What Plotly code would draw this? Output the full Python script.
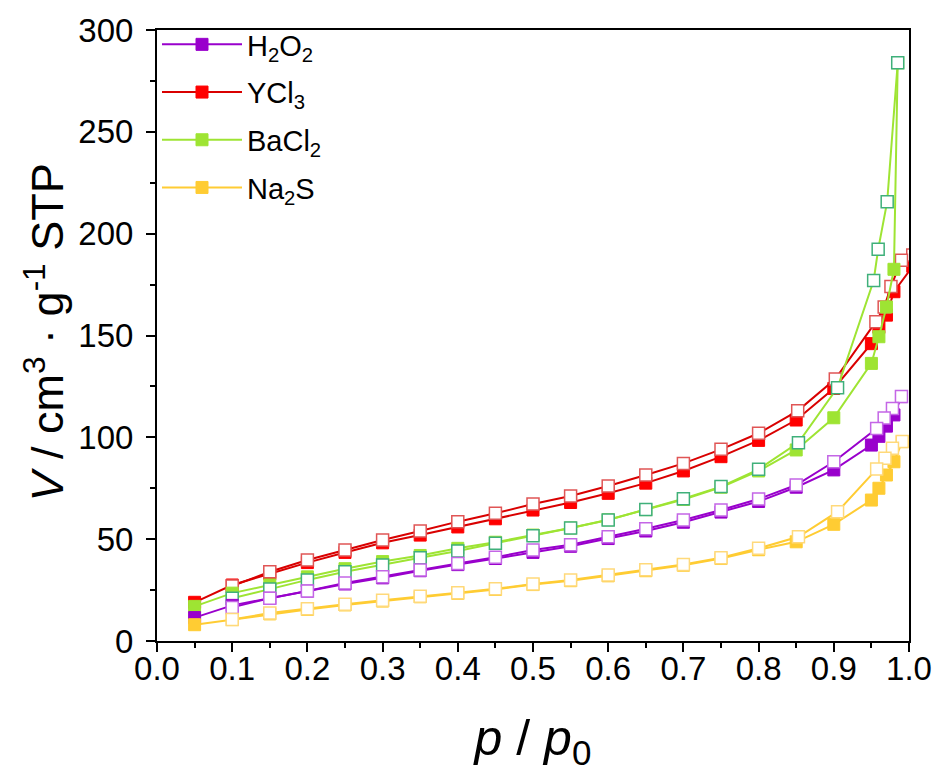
import plotly.graph_objects as go

# ---------------- data ----------------
names = ["H<sub>2</sub>O<sub>2</sub>", "YCl<sub>3</sub>", "BaCl<sub>2</sub>", "Na<sub>2</sub>S"]

p_ads = [0.05, 0.10, 0.15, 0.20, 0.25, 0.30, 0.35, 0.40, 0.45, 0.50, 0.55, 0.60,
         0.65, 0.70, 0.75, 0.80, 0.85, 0.90, 0.95, 0.96, 0.97, 0.98]
p_des_low = [0.80, 0.75, 0.70, 0.65, 0.60, 0.55, 0.50, 0.45, 0.40, 0.35, 0.30,
             0.25, 0.20, 0.15, 0.10]

# H2O2
h2o2_ads_p = p_ads + [0.99]
h2o2_ads_v = [11.5, 17.5, 21.0, 24.5, 28.0, 31.0, 34.5, 37.5, 40.5, 43.5, 46.5, 50.3,
              54.0, 58.3, 63.3, 68.5, 75.5, 84.0, 96.2, 100.5, 105.5, 111.0, 120.0]
h2o2_des_p = [0.99, 0.978, 0.967, 0.957, 0.90, 0.85] + p_des_low
h2o2_des_v = [120.0, 114.2, 109.5, 104.3, 88.0, 76.6, 69.7, 64.3, 59.4, 55.1, 51.2,
              47.3, 44.7, 41.1, 38.1, 34.9, 31.6, 28.5, 24.5, 21.0, 16.5]

# YCl3
ycl3_ads_p = p_ads + [1.005]
ycl3_ads_v = [19.0, 27.5, 33.0, 38.5, 43.5, 48.2, 52.0, 56.0, 60.0, 64.3, 68.0, 72.5,
              77.5, 83.5, 90.5, 98.5, 108.5, 124.0, 146.0, 154.0, 160.0, 171.5, 184.0]
ycl3_des_p = [1.005, 0.99, 0.976, 0.967, 0.956, 0.902, 0.852] + p_des_low
ycl3_des_v = [189.5, 187.0, 174.0, 164.0, 156.8, 128.6, 113.0, 102.0, 94.1, 87.2, 81.5,
              76.1, 71.2, 67.3, 62.7, 58.6, 54.0, 49.6, 44.7, 39.8, 34.0, 27.0]

# BaCl2
bacl2_ads_p = p_ads + [0.985]
bacl2_ads_v = [17.0, 23.5, 27.5, 31.5, 35.5, 39.0, 42.0, 45.5, 48.5, 52.0, 55.5, 59.5,
               64.5, 69.5, 75.5, 83.5, 93.8, 109.6, 136.3, 149.4, 164.0, 182.5, 283.9]
bacl2_des_p = [0.985, 0.971, 0.959, 0.953, 0.905, 0.853] + p_des_low
bacl2_des_v = [283.9, 215.7, 192.3, 177.0, 124.4, 97.4, 84.3, 75.8, 69.9, 64.6, 59.4,
               55.5, 51.7, 48.0, 44.2, 40.9, 37.3, 34.0, 30.0, 25.5, 21.0]

# Na2S
na2s_ads_p = p_ads + [0.991]
na2s_ads_v = [8.0, 10.5, 13.3, 15.5, 17.7, 19.6, 21.7, 23.4, 25.3, 27.7, 29.6, 32.0,
              34.5, 37.2, 40.5, 44.8, 48.7, 57.3, 69.2, 75.0, 81.5, 88.0, 97.9]
na2s_des_p = [0.991, 0.978, 0.968, 0.957, 0.905, 0.853] + p_des_low
na2s_des_v = [97.9, 94.6, 89.7, 84.4, 63.5, 51.2, 45.5, 40.9, 37.6, 35.0, 32.4, 30.0,
              28.0, 25.6, 23.7, 22.0, 20.0, 18.0, 15.8, 13.7, 10.6]

x_ticks = [0.0, 0.1, 0.2, 0.3, 0.4, 0.5, 0.6, 0.7, 0.8, 0.9, 1.0]
y_ticks = [0, 50, 100, 150, 200, 250, 300]

# ---------------- styles ----------------
series = [
    # name, ads_p, ads_v, des_p, des_v, line, fill, open border, legend rank
    (names[1], ycl3_ads_p, ycl3_ads_v, ycl3_des_p, ycl3_des_v, "#D90000", "#FF0000", "#E05555", 2),
    (names[2], bacl2_ads_p, bacl2_ads_v, bacl2_des_p, bacl2_des_v, "#9EE433", "#9EE433", "#3FB07A", 3),
    (names[0], h2o2_ads_p, h2o2_ads_v, h2o2_des_p, h2o2_des_v, "#9900CC", "#9900CC", "#C466E6", 1),
    (names[3], na2s_ads_p, na2s_ads_v, na2s_des_p, na2s_des_v, "#FFCC33", "#FFCC33", "#FFD97A", 4),
]

FONT = "Liberation Sans, Arial, sans-serif"

fig = go.Figure()
for name, ap, av, dp, dv, lc, fc, oc, rank in series:
    fig.add_trace(go.Scatter(
        x=ap, y=av, mode="lines+markers", name=name, legendrank=rank,
        legendgroup=name,
        line=dict(color=lc, width=2),
        marker=dict(symbol="square", size=12, color=fc, line=dict(color=fc, width=1)),
    ))
    fig.add_trace(go.Scatter(
        x=dp, y=dv, mode="lines+markers", name=name + " des", showlegend=False,
        legendgroup=name,
        line=dict(color=lc, width=2),
        marker=dict(symbol="square", size=12, color="white", line=dict(color=oc, width=1.5)),
    ))

axis_font = dict(family=FONT, size=33, color="black")

fig.update_layout(
    width=944, height=774,
    margin=dict(l=157, r=29, t=29, b=133),
    paper_bgcolor="white", plot_bgcolor="white",
    font=dict(family=FONT, color="black"),
    showlegend=True,
    legend=dict(x=0.0, y=1.018, xanchor="left", yanchor="top",
                bgcolor="rgba(0,0,0,0)", font=dict(size=29),
                itemwidth=80, tracegroupgap=7),
    xaxis=dict(range=[0, 1.0], tickvals=x_ticks, ticktext=[f"{v:.1f}" for v in x_ticks],
               showline=True, linecolor="black", linewidth=2, mirror=True,
               ticks="outside", ticklen=9, tickwidth=2, tickcolor="black",
               minor=dict(dtick=0.05, ticks="outside", ticklen=5, tickwidth=2, tickcolor="black"),
               showgrid=False, zeroline=False, tickfont=axis_font,
               ticklabelstandoff=-12,
               title=dict(text="<i>p</i> / <i>p</i><sub>0</sub>",
                          font=dict(family=FONT, size=50),
                          standoff=34)),
    yaxis=dict(range=[0, 300], tickvals=y_ticks,
               showline=True, linecolor="black", linewidth=2, mirror=True,
               ticks="outside", ticklen=9, tickwidth=2, tickcolor="black",
               minor=dict(dtick=25, ticks="outside", ticklen=5, tickwidth=2, tickcolor="black"),
               showgrid=False, zeroline=False, tickfont=axis_font,
               ticklabelstandoff=6),
    annotations=[dict(
        text="<i>V</i> / cm<sup>3</sup> · g<sup>-1</sup> STP",
        xref="paper", yref="paper", x=0, y=0.505, xshift=-112,
        xanchor="center", yanchor="middle", textangle=-90, showarrow=False,
        font=dict(family=FONT, size=45, color="black"),
    )],
)

fig.write_html("out.html")
